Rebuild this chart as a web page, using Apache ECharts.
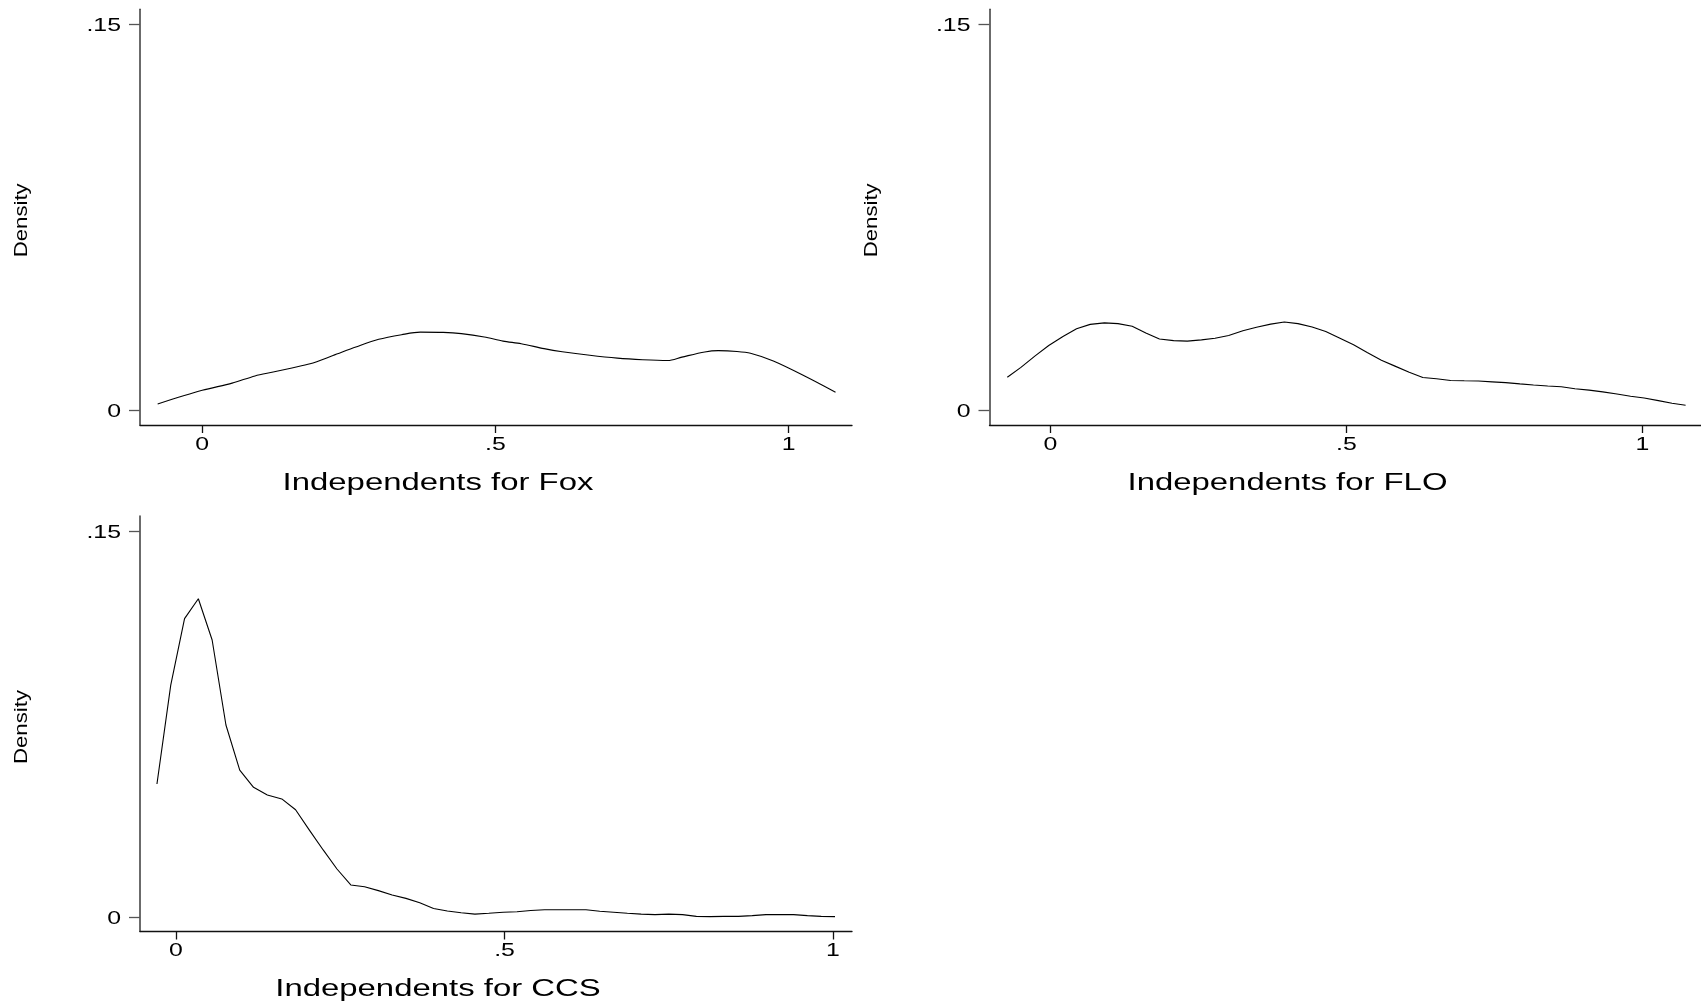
<!DOCTYPE html>
<html><head><meta charset="utf-8">
<script src="https://cdn.jsdelivr.net/npm/echarts@6/dist/echarts.min.js"></script>
<style>html,body{margin:0;padding:0;background:#fff}#c{width:1701px;height:1007px}</style>
</head><body><div id="c"></div>
<script>
const panelTitles = ['Independents for Fox', 'Independents for FLO', 'Independents for CCS'];
const yAxisTitle = 'Density';
const xTickValues = [0, 0.5, 1];
const xTickLabels = ['0', '.5', '1'];
const yTickValues = [0, 0.15];
const yTickLabels = ['0', '.15'];

const foxX = [-0.076, 0, 0.051, 0.090, 0.121, 0.153, 0.184, 0.223, 0.262, 0.301, 0.340, 0.372, 0.411, 0.442, 0.481, 0.513, 0.544, 0.583, 0.614, 0.661, 0.708, 0.751, 0.794, 0.818, 0.857, 0.880, 0.912, 0.935, 0.974, 1.029, 1.080];
const foxY = [0.0026, 0.0079, 0.0107, 0.0135, 0.0150, 0.0166, 0.0182, 0.0214, 0.0247, 0.0277, 0.0295, 0.0305, 0.0304, 0.0299, 0.0286, 0.0270, 0.0260, 0.0241, 0.0229, 0.0215, 0.0204, 0.0198, 0.0195, 0.0208, 0.0228, 0.0233, 0.0230, 0.0223, 0.0193, 0.0133, 0.0072];

const floX = [-0.073, -0.050, -0.026, -0.003, 0.021, 0.044, 0.067, 0.091, 0.114, 0.138, 0.161, 0.184, 0.208, 0.231, 0.255, 0.278, 0.301, 0.325, 0.348, 0.372, 0.395, 0.418, 0.442, 0.465, 0.489, 0.512, 0.535, 0.559, 0.582, 0.606, 0.629, 0.652, 0.676, 0.699, 0.723, 0.746, 0.769, 0.793, 0.816, 0.840, 0.863, 0.886, 0.910, 0.933, 0.957, 0.980, 1.003, 1.027, 1.050, 1.073];
const floY = [0.0130, 0.0168, 0.0213, 0.0253, 0.0288, 0.0318, 0.0335, 0.0341, 0.0338, 0.0328, 0.0302, 0.0278, 0.0272, 0.0270, 0.0275, 0.0281, 0.0292, 0.0310, 0.0324, 0.0336, 0.0344, 0.0338, 0.0325, 0.0307, 0.0281, 0.0256, 0.0226, 0.0196, 0.0173, 0.0149, 0.0129, 0.0124, 0.0117, 0.0116, 0.0115, 0.0112, 0.0109, 0.0104, 0.0100, 0.0096, 0.0093, 0.0085, 0.0080, 0.0073, 0.0065, 0.0056, 0.0049, 0.0039, 0.0029, 0.0021];

const ccsX = [-0.029, -0.008, 0.013, 0.034, 0.055, 0.076, 0.097, 0.118, 0.139, 0.161, 0.182, 0.203, 0.224, 0.245, 0.266, 0.287, 0.308, 0.329, 0.350, 0.371, 0.392, 0.413, 0.434, 0.455, 0.476, 0.498, 0.519, 0.540, 0.561, 0.582, 0.603, 0.624, 0.645, 0.666, 0.687, 0.708, 0.729, 0.750, 0.771, 0.792, 0.813, 0.834, 0.856, 0.877, 0.898, 0.919, 0.940, 0.961, 0.982, 1.003];
const ccsY = [0.0519, 0.0903, 0.1161, 0.1238, 0.1078, 0.0748, 0.0573, 0.0506, 0.0476, 0.0461, 0.0419, 0.0340, 0.0263, 0.0189, 0.0127, 0.0120, 0.0105, 0.0088, 0.0075, 0.0058, 0.0036, 0.0026, 0.0019, 0.0014, 0.0017, 0.0021, 0.0023, 0.0028, 0.0031, 0.0031, 0.0031, 0.0031, 0.0025, 0.0021, 0.0017, 0.0014, 0.0012, 0.0014, 0.0012, 0.0005, 0.0004, 0.0005, 0.0005, 0.0008, 0.0012, 0.0012, 0.0012, 0.0008, 0.0005, 0.0004];

const seriesX = [foxX, floX, ccsX];
const seriesY = [foxY, floY, ccsY];
const smoothness = [0.3, false, false];

const panels = [
  {left: 140, top: 9.3, width: 712, height: 415.7, xMin: -0.1061, xMax: 1.1081, yMin: -0.00555, yMax: 0.15578},
  {left: 989.5, top: 9.3, width: 711.5, height: 415.7, xMin: -0.1031, xMax: 1.099, yMin: -0.00555, yMax: 0.15578},
  {left: 140, top: 516, width: 712, height: 415.5, xMin: -0.0548, xMax: 1.0289, yMin: -0.00536, yMax: 0.15594}
];

const FONT = '"Liberation Sans", Arial, Helvetica, sans-serif';
const chart = echarts.init(document.getElementById('c'), null, {renderer: 'canvas'});

const option = {
  backgroundColor: '#fff',
  animation: false,
  grid: panels.map(p => ({left: p.left, top: p.top, width: p.width, height: p.height, containLabel: false, outerBoundsMode: 'none'})),
  xAxis: panels.map((p, i) => ({
    type: 'value', gridIndex: i, min: p.xMin, max: p.xMax,
    axisLine: {show: true, onZero: false, lineStyle: {color: '#111', width: 1.3}},
    axisTick: {show: true, length: 8, customValues: xTickValues, lineStyle: {color: '#111', width: 1.3}},
    axisLabel: {show: false},
    splitLine: {show: false}
  })),
  yAxis: panels.map((p, i) => ({
    type: 'value', gridIndex: i, min: p.yMin, max: p.yMax,
    axisLine: {show: true, onZero: false, lineStyle: {color: '#3a3a3a', width: 1.5}},
    axisTick: {show: true, length: 11, customValues: yTickValues, lineStyle: {color: '#555', width: 1.3}},
    axisLabel: {show: false},
    splitLine: {show: false}
  })),
  series: seriesX.map((xs, i) => ({
    type: 'line', xAxisIndex: i, yAxisIndex: i,
    data: xs.map((x, k) => [x, seriesY[i][k]]),
    showSymbol: false, smooth: smoothness[i],
    lineStyle: {color: '#000', width: 1.1},
    silent: true
  }))
};
chart.setOption(option);

function txt(text, x, y, size, sx, align, rot) {
  return {
    type: 'text', x: x, y: y, scaleX: sx, rotation: rot, silent: true,
    style: {text: text, font: size + 'px ' + FONT, fill: '#000', textFill: '#000',
      textAlign: align, align: align, textVerticalAlign: 'middle', verticalAlign: 'middle'}
  };
}

const g = [];
panels.forEach((p, i) => {
  xTickValues.forEach((v, k) => {
    const pt = chart.convertToPixel({gridIndex: i}, [v, p.yMin]);
    g.push(txt(xTickLabels[k], pt[0], pt[1] + 20, 18, 1.38, 'center', 0));
  });
  yTickValues.forEach((v, k) => {
    const pt = chart.convertToPixel({gridIndex: i}, [p.xMin, v]);
    g.push(txt(yTickLabels[k], pt[0] - 19, pt[1] + 1.5, 18, 1.38, 'right', 0));
  });
  g.push(txt(panelTitles[i], p.left + 298, p.top + p.height + 58.5, 23, 1.43, 'center', 0));
  g.push(txt(yAxisTitle, p.left - 118, p.top + 211, 18.5, 1.2, 'center', Math.PI / 2));
});
chart.setOption({graphic: g});
</script>
</body></html>
